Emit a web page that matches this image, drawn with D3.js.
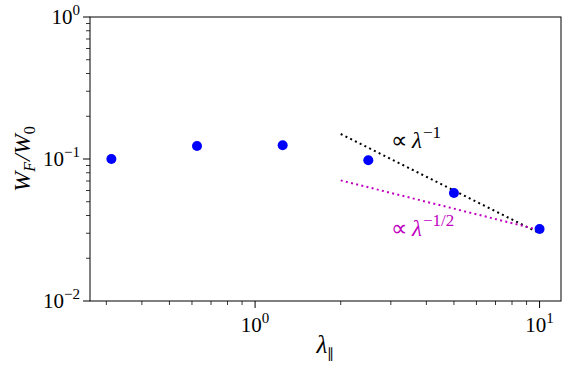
<!DOCTYPE html>
<html><head><meta charset="utf-8">
<script src="https://cdn.jsdelivr.net/npm/d3@7"></script>
</head><body style="margin:0">
<script>
const lambdaVals = [0.3125, 0.625, 1.25, 2.5, 5, 10];
const ratioVals = [0.100, 0.1235, 0.125, 0.098, 0.0576, 0.0321];
const fitX = [2, 10];
const fitInv = [0.15, 0.03];          // ∝ λ^-1
const fitInvSqrt = [0.0707, 0.0316];  // ∝ λ^-1/2
const xTickExps = [0, 1];
const yTickExps = [0, -1, -2];

const W = 571, H = 371;
const m = {l: 90, r: 10, t: 17, b: 70};
const FONT = "Liberation Serif";
const svg = d3.select("body").append("svg").attr("width", W).attr("height", H).style("display", "block");
const x = d3.scaleLog().domain([Math.pow(10, -0.5803), Math.pow(10, 1.0753)]).range([m.l, W - m.r]);
const y = d3.scaleLog().domain([0.01, 1]).range([H - m.b, m.t]);

// rich text made of separate <text> pieces (no tspans)
function rich(parent, px, py, parts, anchor, transform, fill) {
  const grp = parent.append("g");
  let cx = 0;
  parts.forEach(p => {
    const t = grp.append("text").attr("font-family", FONT).attr("x", cx).attr("y", p.dy || 0)
      .attr("font-size", p.size).attr("fill", fill || "#000").text(p.t);
    if (p.italic) t.attr("font-style", "italic");
    cx += t.node().getComputedTextLength() + (p.gap || 0);
  });
  const off = anchor === "middle" ? -cx / 2 : anchor === "end" ? -cx : 0;
  grp.attr("transform", (transform || `translate(${px},${py})`) + ` translate(${off},0)`);
  return grp;
}
const expText = d => d < 0 ? "\u2212" + (-d) : String(d);

// minor ticks
const xMinor = [];
for (const d of [0.1, 1, 10]) for (let k = 2; k <= 9; k++) { const v = d * k; if (v >= x.domain()[0] && v <= x.domain()[1]) xMinor.push(v); }
const yMinor = [];
for (const d of [0.01, 0.1]) for (let k = 2; k <= 9; k++) yMinor.push(d * k);

const g = svg.append("g");
g.selectAll(".xm").data(xMinor).join("line").attr("x1", d => x(d)).attr("x2", d => x(d)).attr("y1", H - m.b).attr("y2", H - m.b + 4).attr("stroke", "#000").attr("stroke-width", 0.8);
g.selectAll(".ym").data(yMinor).join("line").attr("y1", d => y(d)).attr("y2", d => y(d)).attr("x1", m.l).attr("x2", m.l - 4).attr("stroke", "#000").attr("stroke-width", 0.8);
g.selectAll(".xM").data(xTickExps).join("line").attr("x1", d => x(Math.pow(10, d))).attr("x2", d => x(Math.pow(10, d))).attr("y1", H - m.b).attr("y2", H - m.b + 7).attr("stroke", "#000").attr("stroke-width", 1);
g.selectAll(".yM").data(yTickExps).join("line").attr("y1", d => y(Math.pow(10, d))).attr("y2", d => y(Math.pow(10, d))).attr("x1", m.l).attr("x2", m.l - 7).attr("stroke", "#000").attr("stroke-width", 1);

// tick labels
xTickExps.forEach(d => rich(g, x(Math.pow(10, d)), H - m.b + 31,
  [{t: "10", size: 21}, {t: expText(d), size: 15, dy: -9}], "middle"));
yTickExps.forEach(d => rich(g, m.l - 10, y(Math.pow(10, d)) + 7,
  [{t: "10", size: 21}, {t: expText(d), size: 15, dy: -9}], "end"));

// frame
svg.append("rect").attr("x", m.l).attr("y", m.t).attr("width", W - m.r - m.l).attr("height", H - m.b - m.t).attr("fill", "none").attr("stroke", "#000").attr("stroke-width", 1);

// fit lines
const line = d3.line().x(d => x(d[0])).y(d => y(d[1]));
svg.append("path").attr("d", line(fitX.map((v, i) => [v, fitInv[i]]))).attr("fill", "none").attr("stroke", "#000").attr("stroke-width", 2).attr("stroke-dasharray", "2,3.3");
svg.append("path").attr("d", line(fitX.map((v, i) => [v, fitInvSqrt[i]]))).attr("fill", "none").attr("stroke", "#bf00bf").attr("stroke-width", 2).attr("stroke-dasharray", "2,3.3");

// points
svg.selectAll(".pt").data(lambdaVals).join("circle").attr("cx", d => x(d)).attr("cy", (d, i) => y(ratioVals[i])).attr("r", 5).attr("fill", "#0000ff");

// annotations
rich(svg, 391, 148, [{t: "\u221D", size: 23, gap: 5}, {t: "\u03BB", size: 23, italic: true, gap: 1}, {t: "\u22121", size: 17, dy: -10}], "start", null, "#000");
rich(svg, 391, 236, [{t: "\u221D", size: 23, gap: 5}, {t: "\u03BB", size: 23, italic: true, gap: 1}, {t: "\u22121/2", size: 17, dy: -10}], "start", null, "#bf00bf");

// axis labels
rich(svg, (m.l + W - m.r) / 2, 353, [{t: "\u03BB", size: 25, italic: true}, {t: "\u2225", size: 14, dy: 5}], "middle");
rich(svg, 0, 0, [{t: "W", size: 24, italic: true}, {t: "F", size: 16, italic: true, dy: 5, gap: 1}, {t: "/", size: 24, italic: true}, {t: "W", size: 24, italic: true}, {t: "0", size: 16, dy: 5}],
  "middle", `translate(30,${(m.t + H - m.b) / 2}) rotate(-90)`);
</script>
</body></html>
